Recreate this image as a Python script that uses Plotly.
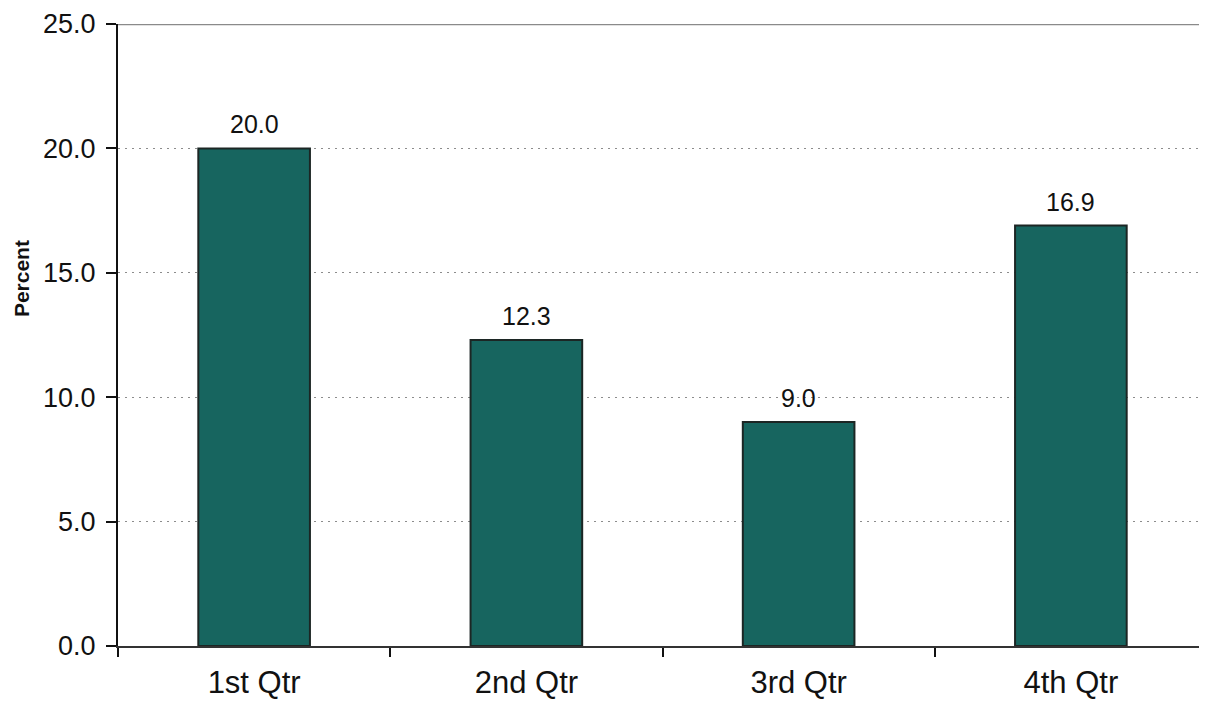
import plotly.graph_objects as go

categories = ["1st Qtr", "2nd Qtr", "3rd Qtr", "4th Qtr"]
values = [20.0, 12.3, 9.0, 16.9]
y_ticks = [0, 5, 10, 15, 20, 25]
y_tick_labels = ["0.0", "5.0", "10.0", "15.0", "20.0", "25.0"]

FONT = "Liberation Sans, Arial, sans-serif"

fig = go.Figure()
fig.add_trace(go.Bar(
    x=categories, y=values, width=0.41,
    marker=dict(color="#17655f", line=dict(color="#1c2624", width=2)),
    hoverinfo="skip",
))
for c, v in zip(categories, values):
    fig.add_annotation(x=c, y=v, text=f"{v:.1f}", showarrow=False,
                       yshift=24, font=dict(size=25, color="#111111", family=FONT))

fig.add_annotation(xref="paper", yref="paper", x=-0.089, y=0.59,
                   text="<b>Percent</b>", textangle=-90, showarrow=False,
                   xanchor="center", yanchor="middle",
                   font=dict(size=21, color="#111111", family=FONT))

fig.add_shape(type="line", xref="paper", yref="y", x0=0, x1=1, y0=25, y1=25,
              line=dict(color="#8a8a8a", width=2.5))

fig.update_layout(
    width=1199, height=696,
    margin=dict(l=110, r=0, t=16, b=58),
    paper_bgcolor="white", plot_bgcolor="white",
    showlegend=False,
    font=dict(family=FONT, color="#111111"),
)
fig.update_xaxes(
    type="category", range=[-0.5, 3.5], tickson="boundaries",
    ticks="outside", ticklen=9, tickcolor="#111111", tickwidth=1.5,
    showline=True, linecolor="#333333", linewidth=2,
    showgrid=False, tickfont=dict(size=31), ticklabelstandoff=8,
    ticklabeloverflow="allow", automargin=False,
)
fig.update_yaxes(
    range=[0, 25], tickvals=y_ticks, ticktext=y_tick_labels,
    ticks="outside", ticklen=10, tickcolor="#111111", tickwidth=1.5,
    showline=True, linecolor="#111111", linewidth=2,
    showgrid=True, gridcolor="#8c8c8c", griddash="2px,5px", gridwidth=1.2,
    zeroline=False, tickfont=dict(size=27), ticklabelstandoff=5,
    ticklabeloverflow="allow", automargin=False,
)
fig.write_html("out.html")
